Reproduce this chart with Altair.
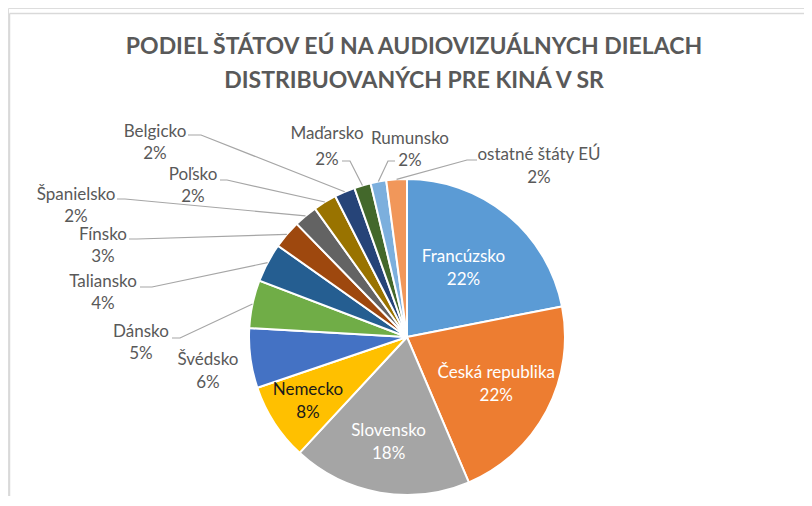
import math
import altair as alt
import pandas as pd

# ---- data ----
countries = ["Francúzsko", "Česká republika", "Slovensko", "Nemecko", "Švédsko",
             "Dánsko", "Taliansko", "Fínsko", "Španielsko", "Poľsko", "Belgicko",
             "Maďarsko", "Rumunsko", "ostatné štáty EÚ"]
shares = [21.9, 21.7, 18.3, 7.9, 6.1, 4.9, 4.0, 2.9, 2.4, 2.4, 2.1, 1.7, 1.6, 2.1]
pct_labels = ["22%", "22%", "18%", "8%", "6%", "5%", "4%", "3%", "2%", "2%", "2%",
              "2%", "2%", "2%"]
colors = ["#5B9BD5", "#ED7D31", "#A5A5A5", "#FFC000", "#4472C4", "#70AD47", "#255E91",
          "#9E480E", "#636363", "#997300", "#264478", "#43682B", "#7CAFDD", "#F1975A"]
title_lines = ["PODIEL ŠTÁTOV EÚ NA AUDIOVIZUÁLNYCH DIELACH",
               "DISTRIBUOVANÝCH PRE KINÁ V SR"]

# ---- layout (page px, shifted to view coords below) ----
W, H = 796, 488
OFF = 8
CX, CY, R = 407 - OFF, 337 - OFF, 158
FONT = "Lato"
LABEL_SIZE = 17
LINE_GAP = 11.5

inside = {"Francúzsko": (89, "white"), "Česká republika": (101, "white"),
          "Slovensko": (107, "white"), "Nemecko": (118, "#1a1a1a")}

# outside label: name-line centre, pct offset, leader attach, elbow
outside = {
    "Belgicko": ((155, 132), 22, (188, 135), (201, 135)),
    "Poľsko": ((193, 175), 22, (220, 180), (227, 180)),
    "Španielsko": ((76, 195), 22, (117, 199), (125, 199)),
    "Fínsko": ((103, 235), 22, (129, 239), (137, 239)),
    "Taliansko": ((103, 282), 22, (140, 287), (152, 287)),
    "Dánsko": ((141, 332), 22, (172, 338), (180, 338)),
    "Švédsko": ((208, 360), 23, None, None),
    "Maďarsko": ((327, 134), 26, (342, 161), (350, 161)),
    "Rumunsko": ((410, 139), 22, (395, 161), (388, 161)),
    "ostatné štáty EÚ": ((539, 155), 23, (477, 160), (467, 160)),
}

total = sum(shares)
cum = 0.0
rows = []
for i, (c, s, p) in enumerate(zip(countries, shares, pct_labels)):
    mid = cum + s / 2
    cum += s
    rows.append({"idx": i, "country": c, "share": s, "pct": p, "mid": mid / total * 100})
df = pd.DataFrame(rows)

arcs = alt.Chart(df).mark_arc(radius=R, stroke="white", strokeWidth=2).encode(
    theta=alt.Theta("share:Q", stack=True),
    color=alt.Color("country:N", scale=alt.Scale(domain=countries, range=colors), legend=None),
    order=alt.Order("idx:Q"),
    x=alt.value(CX), y=alt.value(CY),
)

# inside labels (polar placement from data mid-angles)
ins = df[df["country"].isin(inside.keys())].copy()
ins["lr"] = ins["country"].map(lambda c: inside[c][0])
ins["tc"] = ins["country"].map(lambda c: inside[c][1])
theta_scale = alt.Scale(domain=[0, 100], range=[0, 2 * math.pi])
ins_layers = []
for field, dy in (("country", -LINE_GAP), ("pct", LINE_GAP)):
    ins_layers.append(
        alt.Chart(ins).mark_text(font=FONT, fontSize=LABEL_SIZE, dy=dy, baseline="middle", align="center").encode(
            theta=alt.Theta("mid:Q", scale=theta_scale),
            radius=alt.Radius("lr:Q", scale=None),
            text=f"{field}:N",
            color=alt.Color("tc:N", scale=None),
            x=alt.value(CX), y=alt.value(CY),
        )
    )

# outside labels
orows, lrows = [], []
for c, (nc, pg, att, elb) in outside.items():
    rec = df[df["country"] == c].iloc[0]
    orows.append({"country": c, "pct": rec["pct"], "nx": nc[0] - OFF, "ny": nc[1] - OFF,
                  "py": nc[1] + pg - OFF})
    if att is not None:
        a = rec["mid"] / 100 * 2 * math.pi
        ex, ey = CX + R * math.sin(a), CY - R * math.cos(a)
        pts = [(att[0] - OFF, att[1] - OFF), (elb[0] - OFF, elb[1] - OFF), (ex, ey)]
        for k, (x, y) in enumerate(pts):
            lrows.append({"country": c, "k": k, "x": x, "y": y})
odf = pd.DataFrame(orows)
ldf = pd.DataFrame(lrows)

leaders = alt.Chart(ldf).mark_line(color="#A6A6A6", strokeWidth=1.2).encode(
    x=alt.X("x:Q", scale=None), y=alt.Y("y:Q", scale=None),
    detail="country:N", order="k:Q",
)
out_name = alt.Chart(odf).mark_text(font=FONT, fontSize=LABEL_SIZE, color="#595959", baseline="middle").encode(
    x=alt.X("nx:Q", scale=None), y=alt.Y("ny:Q", scale=None), text="country:N")
out_pct = alt.Chart(odf).mark_text(font=FONT, fontSize=LABEL_SIZE, color="#595959", baseline="middle").encode(
    x=alt.X("nx:Q", scale=None), y=alt.Y("py:Q", scale=None), text="pct:N")

# title
tdf = pd.DataFrame({"t": title_lines, "ty": [47 - OFF, 81 - OFF]})
title = alt.Chart(tdf).mark_text(font=FONT, fontSize=23, fontWeight="bold", color="#595959",
                                 baseline="middle").encode(
    x=alt.value(414 - OFF), y=alt.Y("ty:Q", scale=None), text="t:N")

# frame
one = pd.DataFrame({"a": [0]})
frame_left = alt.Chart(one).mark_rule(color="#D9D9D9", strokeWidth=1.5).encode(
    x=alt.value(9.5 - OFF), y=alt.value(13.5 - OFF), y2=alt.value(H))
frame_top = alt.Chart(one).mark_rule(color="#D9D9D9", strokeWidth=1.5).encode(
    x=alt.value(9.5 - OFF), x2=alt.value(W), y=alt.value(13.5 - OFF))

chart = alt.layer(frame_left, frame_top, arcs, *ins_layers, leaders, out_name, out_pct, title).properties(
    width=W, height=H, autosize=alt.AutoSizeParams(type="none"), padding=0,
).configure_view(stroke=None).configure(background="white")

chart.save("out.html", embed_options={"renderer": "svg", "actions": False})
